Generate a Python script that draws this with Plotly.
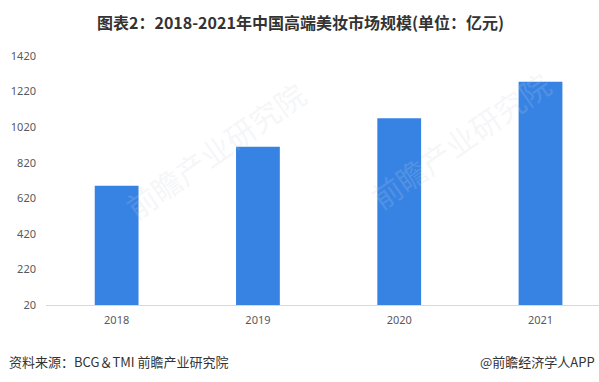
import plotly.graph_objects as go

years = ["2018", "2019", "2020", "2021"]
values = [690, 910, 1070, 1275]
ytick_vals = [20, 220, 420, 620, 820, 1020, 1220, 1420]
title_text = "图表2：2018-2021年中国高端美妆市场规模(单位：亿元)"
source_text = "资料来源：BCG＆TMI 前瞻产业研究院"
credit_text = "@前瞻经济学人APP"
watermark_text = "前瞻产业研究院"

W, H = 599, 382
L, R, T, B = 46, 0, 56, 77
PW, PH = W - L - R, H - T - B

fig = go.Figure()
fig.add_trace(go.Bar(
    x=list(range(len(years))), y=[v - 20 for v in values], base=20,
    width=0.31, marker=dict(color="#3683E4", line=dict(width=0)),
    hoverinfo="skip",
))

fig.update_layout(
    width=W, height=H,
    margin=dict(l=L, r=R, t=T, b=B),
    paper_bgcolor="white", plot_bgcolor="white",
    showlegend=False,
    font=dict(family="Noto Sans, Noto Sans CJK SC, sans-serif", color="#595959", size=11),
    xaxis=dict(
        range=[-0.5, 3.414], tickmode="array",
        tickvals=list(range(len(years))), ticktext=years,
        showgrid=False, zeroline=False, showline=True,
        linecolor="#d9d9d9", linewidth=1, ticks="",
        ticklabelstandoff=5,
        tickfont=dict(size=11, color="#595959"),
    ),
    yaxis=dict(
        range=[20, 1420], tickmode="array", tickvals=ytick_vals,
        showgrid=False, zeroline=False, showline=False, ticks="",
        ticklabelstandoff=9,
        tickfont=dict(size=11, color="#595959"),
    ),
)


def px_anno(text, xpx, ypx, xanchor="center", **kw):
    fig.add_annotation(
        text=text, x=(xpx - L) / PW, y=(T + PH - ypx) / PH,
        xref="paper", yref="paper", xanchor=xanchor, yanchor="middle",
        showarrow=False, **kw,
    )


px_anno("<b>" + title_text + "</b>", 300, 22,
        font=dict(family="Noto Sans CJK SC", size=16, color="#333333"))
px_anno(source_text, 7, 361, xanchor="left",
        font=dict(family="Noto Sans CJK SC", size=13, color="#333333"))
px_anno(credit_text, 597, 361, xanchor="right",
        font=dict(family="Noto Sans CJK SC", size=13, color="#333333"))
wm_font = dict(family="Noto Sans CJK SC", size=30, color="rgba(205,210,220,0.2)")
px_anno(watermark_text, 215, 150, textangle=-35, font=wm_font)
px_anno(watermark_text, 460, 140, textangle=-35, font=wm_font)

fig.write_html(
    "out.html",
    config={"displayModeBar": False},
    post_script="document.body.style.margin='0';document.body.style.padding='0';",
)
